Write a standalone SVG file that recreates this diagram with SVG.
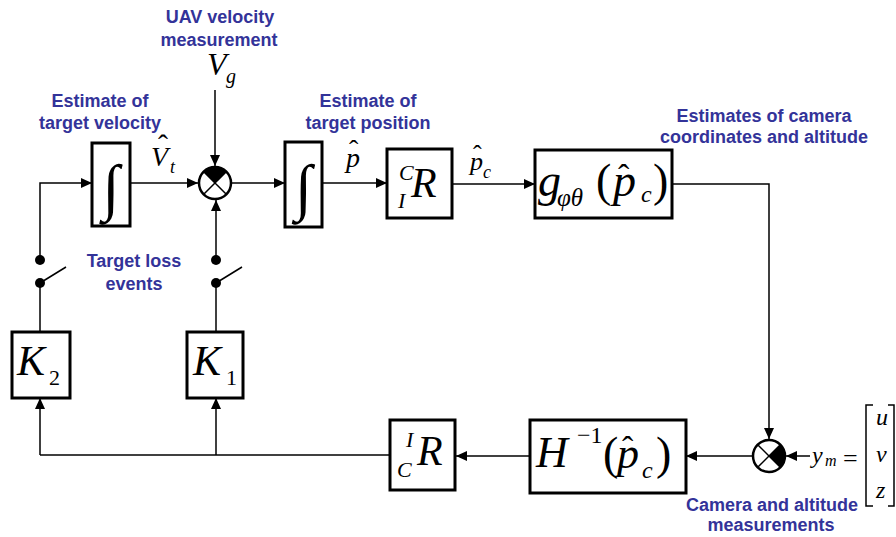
<svg xmlns="http://www.w3.org/2000/svg" width="896" height="537" viewBox="0 0 896 537">
<defs>
<marker id="ah" markerUnits="userSpaceOnUse" markerWidth="11" markerHeight="10" refX="11" refY="5" orient="auto">
<path d="M0,0 L11,5 L0,10 z" fill="#000"/>
</marker>
<style>
.box{fill:#fff;stroke:#000;stroke-width:3}
.ln{fill:none;stroke:#000;stroke-width:1.5}
.arr{fill:none;stroke:#000;stroke-width:1.5;marker-end:url(#ah)}
.lbl{font-family:"Liberation Sans",Arial,sans-serif;font-weight:bold;font-size:18px;fill:#333399;text-anchor:middle}
.m{font-family:"Liberation Serif","Times New Roman",serif;font-style:italic;fill:#000}
.r{font-family:"Liberation Serif","Times New Roman",serif;fill:#000}
.sum{fill:#fff;stroke:#000;stroke-width:2.5}
</style>
</defs>
<rect width="896" height="537" fill="#fff"/>

<g id="connectors">
<polyline class="arr" points="40,260 40,183 92,183"/>
<line class="ln" x1="40" y1="283" x2="40" y2="332"/>
<line class="arr" x1="130" y1="183" x2="198" y2="183"/>
<line class="arr" x1="215" y1="90" x2="215" y2="166"/>
<line class="arr" x1="216" y1="260" x2="216" y2="200"/>
<line class="ln" x1="216" y1="283" x2="216" y2="332"/>
<line class="arr" x1="232" y1="183" x2="285" y2="183"/>
<line class="arr" x1="322" y1="183" x2="387" y2="183"/>
<line class="arr" x1="452" y1="184" x2="535" y2="184"/>
<polyline class="arr" points="672,184 769,184 769,439"/>
<line class="arr" x1="810" y1="456" x2="786" y2="456"/>
<line class="arr" x1="752" y1="456" x2="686" y2="456"/>
<line class="arr" x1="530" y1="456" x2="456" y2="456"/>
<polyline class="ln" points="390,455 40,455"/>
<line class="arr" x1="40" y1="455" x2="40" y2="398"/>
<line class="arr" x1="216" y1="455" x2="216" y2="398"/>
</g>

<g id="switch2">
<circle cx="40" cy="260" r="5"/>
<circle cx="40" cy="283" r="5"/>
<line class="ln" x1="40" y1="283" x2="66" y2="267"/>
</g>
<g id="switch1">
<circle cx="216" cy="260" r="5"/>
<circle cx="216" cy="283" r="5"/>
<line class="ln" x1="216" y1="283" x2="242" y2="267"/>
</g>

<g id="int1">
<rect class="box" x="92" y="143" width="38" height="83"/>
<text class="r" x="111" y="208" font-size="62" text-anchor="middle">∫</text>
</g>
<g id="int2">
<rect class="box" x="285" y="142" width="37" height="85"/>
<text class="r" x="303.5" y="208" font-size="62" text-anchor="middle">∫</text>
</g>

<g id="sum1">
<circle class="sum" cx="215" cy="183" r="16"/>
<path d="M215,183 L203.7,171.7 A16,16 0 0 1 226.3,171.7 Z" fill="#000"/>
<line class="ln" x1="203.7" y1="171.7" x2="226.3" y2="194.3"/>
<line class="ln" x1="226.3" y1="171.7" x2="203.7" y2="194.3"/>
</g>
<g id="sum2">
<circle class="sum" cx="769" cy="456" r="16"/>
<path d="M769,456 L780.3,444.7 A16,16 0 0 1 780.3,467.3 Z" fill="#000"/>
<line class="ln" x1="757.7" y1="444.7" x2="780.3" y2="467.3"/>
<line class="ln" x1="780.3" y1="444.7" x2="757.7" y2="467.3"/>
</g>

<g id="cir">
<rect class="box" x="387" y="149" width="65" height="69"/>
<text class="m" x="399" y="180" font-size="22">C</text>
<text class="m" x="398" y="208" font-size="22">I</text>
<text class="m" x="411" y="197" font-size="42">R</text>
</g>

<g id="g">
<rect class="box" x="535" y="150" width="137" height="68"/>
<text class="m" x="538" y="196" font-size="46">g</text>
<text class="m" x="557" y="206" font-size="25">φθ</text>
<text class="r" x="596" y="196" font-size="46">(</text>
<text class="m" x="613" y="196" font-size="46">p</text>
<text class="r" x="618" y="188" font-size="34">ˆ</text>
<text class="m" x="641" y="202" font-size="24">c</text>
<text class="r" x="653" y="196" font-size="46">)</text>
</g>

<g id="h">
<rect class="box" x="530" y="420" width="156" height="73"/>
<text class="m" x="536" y="467" font-size="44">H</text>
<text class="r" x="577" y="443" font-size="24">−1</text>
<text class="r" x="603" y="469" font-size="46">(</text>
<text class="m" x="617" y="468" font-size="44">p</text>
<text class="r" x="622" y="460" font-size="34">ˆ</text>
<text class="m" x="642" y="478" font-size="24">c</text>
<text class="r" x="656" y="469" font-size="46">)</text>
</g>

<g id="icr">
<rect class="box" x="390" y="420" width="65" height="70"/>
<text class="m" x="406" y="447" font-size="22">I</text>
<text class="m" x="397" y="477" font-size="22">C</text>
<text class="m" x="417" y="465" font-size="42">R</text>
</g>

<g id="k2">
<rect class="box" x="12" y="332" width="58" height="66"/>
<text class="m" x="17" y="375" font-size="42">K</text>
<text class="r" x="49" y="385" font-size="22">2</text>
</g>
<g id="k1">
<rect class="box" x="187" y="332" width="56" height="66"/>
<text class="m" x="193" y="375" font-size="42">K</text>
<text class="r" x="226" y="385" font-size="22">1</text>
</g>

<g id="signals">
<text class="m" x="207" y="75" font-size="32">V</text>
<text class="m" x="226" y="83" font-size="20">g</text>
<text class="m" x="151" y="166" font-size="28">V</text>
<text class="r" x="158" y="155" font-size="30">ˆ</text>
<text class="m" x="170" y="173" font-size="18">t</text>
<text class="m" x="346" y="167" font-size="28">p</text>
<text class="r" x="349" y="159" font-size="28">ˆ</text>
<text class="m" x="470" y="170" font-size="26">p</text>
<text class="r" x="473" y="163" font-size="26">ˆ</text>
<text class="m" x="483" y="178" font-size="18">c</text>
<text class="m" x="812" y="463" font-size="24">y</text>
<text class="m" x="825" y="466" font-size="16">m</text>
<text class="r" x="843" y="467" font-size="26">=</text>
<polyline class="ln" points="873,405 866,405 866,506 873,506"/>
<polyline class="ln" points="888,405 894,405 894,506 888,506"/>
<text class="m" x="876" y="425" font-size="24">u</text>
<text class="m" x="876" y="462" font-size="24">v</text>
<text class="m" x="876" y="498" font-size="24">z</text>
</g>

<g id="labels">
<text class="lbl" x="220" y="23">UAV velocity</text>
<text class="lbl" x="219" y="46">measurement</text>
<text class="lbl" x="100" y="107">Estimate of</text>
<text class="lbl" x="100" y="129">target velocity</text>
<text class="lbl" x="368" y="107">Estimate of</text>
<text class="lbl" x="368" y="129">target position</text>
<text class="lbl" x="764" y="122">Estimates of camera</text>
<text class="lbl" x="764" y="143">coordinates and altitude</text>
<text class="lbl" x="134" y="267">Target loss</text>
<text class="lbl" x="134" y="290">events</text>
<text class="lbl" x="772" y="511">Camera and altitude</text>
<text class="lbl" x="771" y="531">measurements</text>
</g>
</svg>
